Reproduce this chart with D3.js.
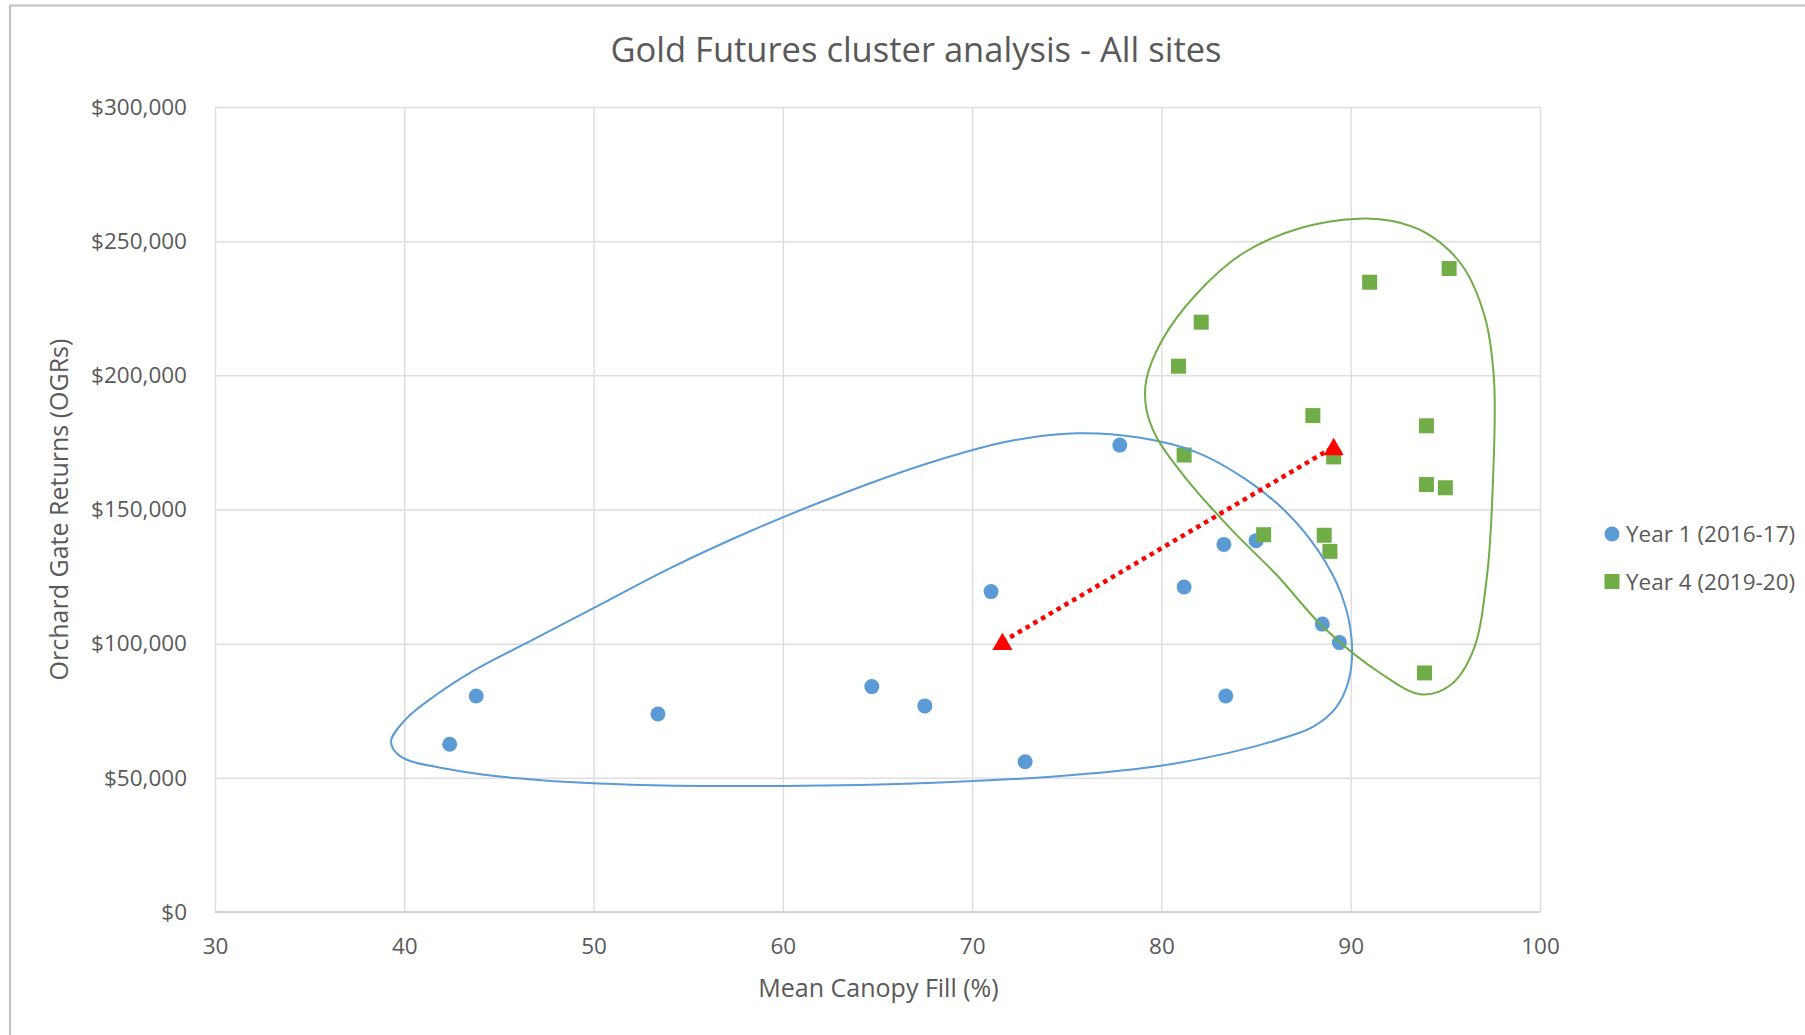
<!DOCTYPE html>
<html>
<head>
<meta charset="utf-8">
<script src="https://cdn.jsdelivr.net/npm/d3@7"></script>
<style>
  body { margin: 0; background: #fff; }
  svg { display: block; }
  text { font-family: "Open Sans", "Noto Sans", sans-serif; fill: #595959; }
</style>
</head>
<body>
<svg id="chart" width="1805" height="1035"></svg>
<script>
// ---- Data -------------------------------------------------------------
const chartTitle = "Gold Futures cluster analysis - All sites";
const xTitle = "Mean Canopy Fill (%)";
const yTitle = "Orchard Gate Returns (OGRs)";
const seriesNames = ["Year 1 (2016-17)", "Year 4 (2019-20)"];

// Year 1 sites: canopy fill (%) and orchard gate returns ($)
const year1Fill    = [42.4, 43.8, 53.4, 64.7, 67.5, 71.0, 72.8, 77.8, 81.2, 83.3, 83.4, 85.0, 88.5, 89.4];
const year1Returns = [62500, 80500, 73800, 84000, 76800, 119400, 56000, 174000, 121100, 137000, 80500, 138400, 107300, 100400];

// Year 4 sites
const year4Fill    = [80.9, 82.1, 81.2, 85.4, 88.0, 88.6, 88.9, 89.1, 91.0, 95.2, 94.0, 94.0, 95.0, 93.9];
const year4Returns = [203400, 219800, 170300, 140600, 185000, 140400, 134400, 169600, 234700, 239800, 181200, 159300, 158100, 89100];

// Cluster centres (Year 1 -> Year 4)
const centreFill    = [71.6, 89.1];
const centreReturns = [100700, 173300];

// Axis ticks
const xTicks = [30, 40, 50, 60, 70, 80, 90, 100];
const yTicks = [0, 50000, 100000, 150000, 200000, 250000, 300000];

// Hand-drawn cluster outlines, as [fill %, returns $k] control points
const year1Outline = [
  [39.3, 63.5], [40.1, 72.0], [41.6, 80.5], [43.8, 90.5], [46.8, 101.5], [50.2, 114.0],
  [54.0, 128.0], [58.3, 142.0], [63.0, 155.5], [67.8, 167.5], [72.0, 175.5], [75.5, 178.4],
  [78.8, 176.8], [81.8, 171.5], [84.4, 161.5], [86.6, 149.0], [88.3, 134.5], [89.5, 118.5],
  [90.05, 101.5], [89.9, 86.5], [89.2, 76.0], [88.0, 69.0], [86.2, 64.3], [83.5, 59.2],
  [79.5, 54.0], [74.5, 50.6], [68.0, 48.2], [60.0, 47.0], [52.0, 47.4], [46.0, 49.8],
  [42.3, 53.3], [39.8, 58.0]
];
const year4Outline = [
  [90.39, 258.4], [92.21, 257.5], [94.04, 252.8], [95.86, 241.2], [97.08, 221.9], [97.57, 198.3],
  [97.51, 159.7], [97.2, 125.3], [96.47, 97.4], [95.26, 84.5], [93.74, 81.1], [91.61, 88.8],
  [88.57, 106.0], [86.13, 125.3], [83.7, 142.5], [81.27, 161.8], [79.75, 176.8], [79.2, 187.6],
  [79.2, 198.3], [80.05, 213.3], [81.88, 230.5], [84.31, 245.5], [87.35, 254.9]
];

// ---- Layout -----------------------------------------------------------
const W = 1805, H = 1035;
const plot = { left: 215, right: 1540, top: 107, bottom: 912 };
const colours = { year1: "#5B9BD5", year4: "#70AD47", centre: "#FF0000", grid: "#DEDEDE" };
const font = "'Open Sans', 'Noto Sans', sans-serif";

const svg = d3.select("#chart");
svg.append("rect").attr("width", W).attr("height", H).attr("fill", "#fff");

// chart-area frame
svg.append("rect")
  .attr("x", 10).attr("y", 5.5).attr("width", 2000).attr("height", 2000)
  .attr("fill", "none").attr("stroke", "#BFBFBF").attr("stroke-width", 2);

const x = d3.scaleLinear().domain([30, 100]).range([plot.left, plot.right]);
const y = d3.scaleLinear().domain([0, 300000]).range([plot.bottom, plot.top]);

// gridlines
const gridX = svg.append("g").attr("transform", `translate(0,${plot.bottom})`)
  .call(d3.axisBottom(x).tickValues(xTicks).tickSize(-(plot.bottom - plot.top)).tickFormat(""));
const gridY = svg.append("g").attr("transform", `translate(${plot.left},0)`)
  .call(d3.axisLeft(y).tickValues(yTicks).tickSize(-(plot.right - plot.left)).tickFormat(""));
[gridX, gridY].forEach(g => {
  g.select(".domain").remove();
  g.selectAll("line").attr("stroke", colours.grid).attr("stroke-width", 1.5);
});
// base line at $0
svg.append("line")
  .attr("x1", plot.left).attr("x2", plot.right)
  .attr("y1", y(0)).attr("y2", y(0))
  .attr("stroke", "#D4D4D4").attr("stroke-width", 2);

// tick labels
const xAxis = svg.append("g").attr("transform", `translate(0,${plot.bottom})`)
  .call(d3.axisBottom(x).tickValues(xTicks).tickSize(0).tickPadding(26));
const yAxis = svg.append("g").attr("transform", `translate(${plot.left},0)`)
  .call(d3.axisLeft(y).tickValues(yTicks).tickSize(0).tickPadding(28)
    .tickFormat(d => "$" + d3.format(",")(d)));
[xAxis, yAxis].forEach(g => {
  g.select(".domain").remove();
  g.selectAll("text").attr("font-size", 22.5).attr("fill", "#595959").attr("font-family", font);
});

// titles
svg.append("text").attr("x", 916).attr("y", 62).attr("text-anchor", "middle")
  .attr("font-size", 34.5).text(chartTitle);
svg.append("text").attr("x", (plot.left + plot.right) / 2 + 1).attr("y", 997)
  .attr("text-anchor", "middle").attr("font-size", 25).text(xTitle);
svg.append("text").attr("transform", `translate(68,${(plot.top + plot.bottom) / 2}) rotate(-90)`)
  .attr("text-anchor", "middle").attr("font-size", 25).text(yTitle);

// ---- Marks ------------------------------------------------------------
const year1 = year1Fill.map((f, i) => ({ fill: f, ret: year1Returns[i] }));
const year4 = year4Fill.map((f, i) => ({ fill: f, ret: year4Returns[i] }));
const centres = centreFill.map((f, i) => ({ fill: f, ret: centreReturns[i] }));

svg.append("g").selectAll("circle").data(year1).join("circle")
  .attr("cx", d => x(d.fill)).attr("cy", d => y(d.ret)).attr("r", 7.5)
  .attr("fill", colours.year1);

const sq = 15;
svg.append("g").selectAll("rect").data(year4).join("rect")
  .attr("x", d => x(d.fill) - sq / 2).attr("y", d => y(d.ret) - sq / 2)
  .attr("width", sq).attr("height", sq)
  .attr("fill", colours.year4);

// cluster outlines
const outline = d3.line()
  .x(d => x(d[0])).y(d => y(d[1] * 1000))
  .curve(d3.curveCatmullRomClosed.alpha(0.5));
svg.append("path").attr("d", outline(year1Outline))
  .attr("fill", "none").attr("stroke", colours.year1).attr("stroke-width", 2);
svg.append("path").attr("d", outline(year4Outline))
  .attr("fill", "none").attr("stroke", colours.year4).attr("stroke-width", 2);

// shift between the two cluster centres
svg.append("path")
  .attr("d", d3.line().x(d => x(d.fill)).y(d => y(d.ret))(centres))
  .attr("fill", "none").attr("stroke", colours.centre)
  .attr("stroke-width", 4.5).attr("stroke-dasharray", "4.5 4.5");

const tri = d3.symbol().type(d3.symbolTriangle).size(175);
svg.append("g").selectAll("path").data(centres).join("path")
  .attr("d", tri)
  .attr("transform", d => `translate(${x(d.fill)},${y(d.ret) + 2.5})`)
  .attr("fill", colours.centre);

// ---- Legend -----------------------------------------------------------
const legend = svg.append("g").attr("transform", "translate(1612,534)");
legend.append("circle").attr("cx", 0).attr("cy", 0).attr("r", 7.5).attr("fill", colours.year1);
legend.append("rect").attr("x", -7.5).attr("y", 47.5 - 7.5).attr("width", 15).attr("height", 15)
  .attr("fill", colours.year4);
legend.selectAll("text").data(seriesNames).join("text")
  .attr("x", 14).attr("y", (d, i) => i * 47.5 + 8)
  .attr("font-size", 22.5).text(d => d);
</script>
</body>
</html>
